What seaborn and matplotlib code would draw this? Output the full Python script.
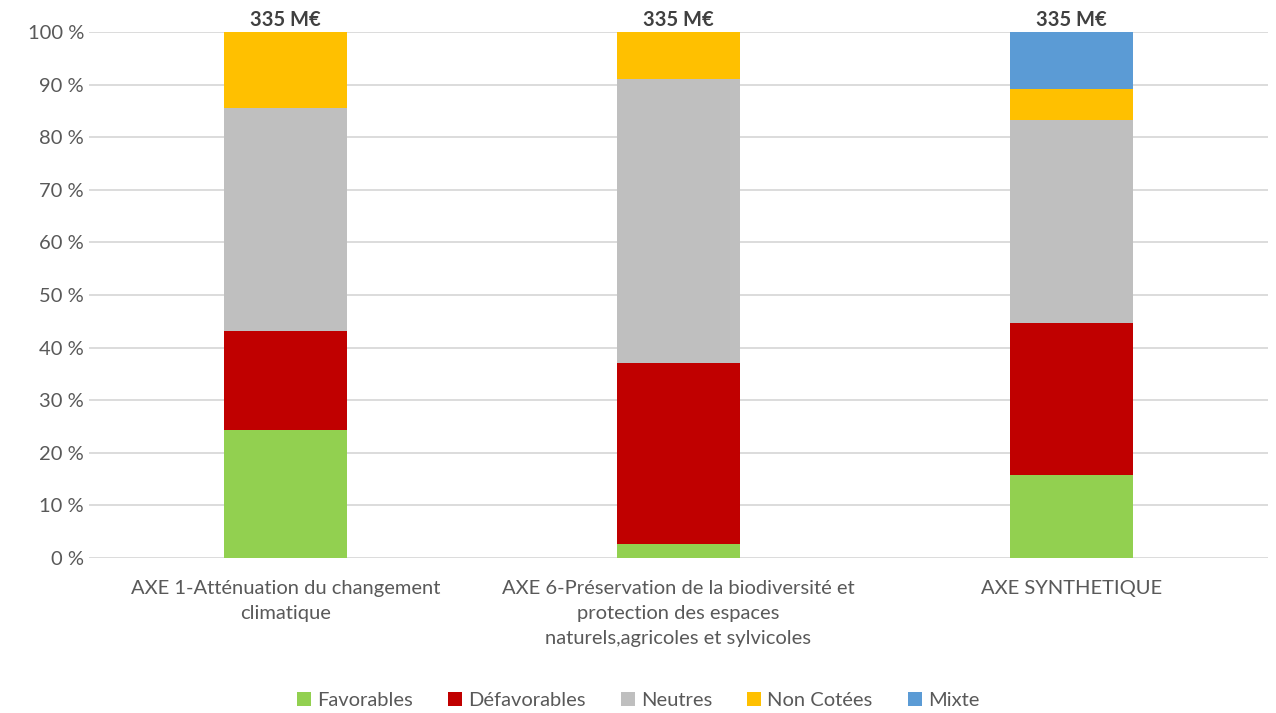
import seaborn as sns
import matplotlib.pyplot as plt
import numpy as np
import pandas as pd

categories = ['AXE 1-Atténuation du changement\nclimatique',
              'AXE 6-Préservation de la biodiversité et\nprotection des espaces\nnaturels,agricoles et sylvicoles',
              'AXE SYNTHETIQUE']
series = ['Favorables', 'Défavorables', 'Neutres', 'Non Cotées', 'Mixte']
favorables = [24.3, 2.7, 15.8]
defavorables = [18.9, 34.4, 28.9]
neutres = [42.4, 54.0, 38.6]
non_cotees = [14.4, 8.9, 5.9]
mixte = [0.0, 0.0, 10.8]
totals = ['335 M€', '335 M€', '335 M€']
colors = ['#92D050', '#C00000', '#BFBFBF', '#FFC000', '#5B9BD5']

sns.set_style('white')
plt.rcParams['font.family'] = ['Lato', 'DejaVu Sans']

fig = plt.figure(figsize=(12.76, 7.13), dpi=100)
ax = fig.add_axes([0.0697, 0.2174, 0.9240, 0.7376])

values = [favorables, defavorables, neutres, non_cotees, mixte]
bottom = np.zeros(len(categories))
for name, vals, col in zip(series, values, colors):
    df = pd.DataFrame({'cat': categories, 'val': vals})
    sns.barplot(data=df, x='cat', y='val', color=col, width=0.313, saturation=1,
                bottom=bottom, label=name, ax=ax, zorder=3, linewidth=0)
    bottom = bottom + np.array(vals)

for i, t in enumerate(totals):
    ax.text(i, bottom[i] + 0.4, t, ha='center', va='bottom',
            fontsize=14.5, fontweight='bold', color='#404040')

ax.set_ylim(0, 100)
ax.set_xlim(-0.5, 2.5)
ax.set_yticks(np.arange(0, 101, 10))
ax.set_yticklabels([f'{v} %' for v in range(0, 101, 10)])
ax.yaxis.grid(True, color='#D9D9D9', linewidth=1.3, zorder=0)
ax.set_xlabel('')
ax.set_ylabel('')
ax.tick_params(axis='both', labelsize=14.5, colors='#595959', length=0)
ax.tick_params(axis='x', pad=16)
for lbl in ax.get_xticklabels():
    lbl.set_multialignment('center')
    lbl.set_linespacing(1.55)
for s in ax.spines.values():
    s.set_visible(False)

handles, labels = ax.get_legend_handles_labels()
leg = ax.legend(handles, labels, loc='center', bbox_to_anchor=(0.5, 0.018),
                bbox_transform=fig.transFigure,
                ncol=5, frameon=False, fontsize=14.5, handlelength=0.7, handleheight=0.7,
                handletextpad=0.3, columnspacing=1.75, labelcolor='#595959')

fig.savefig('out.png', dpi=100)
